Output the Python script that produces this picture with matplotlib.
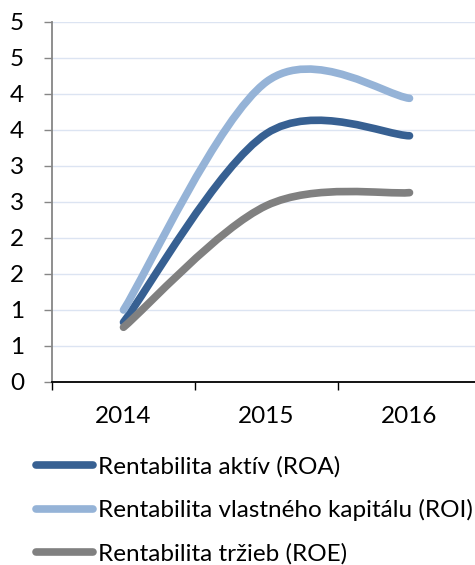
import matplotlib
matplotlib.use('Agg')
import matplotlib.pyplot as plt
from matplotlib.path import Path
from matplotlib.patches import PathPatch
from matplotlib.lines import Line2D
import numpy as np

years = ['2014', '2015', '2016']
roa = [0.83, 3.45, 3.42]
roi = [1.00, 4.17, 3.94]
roe = [0.76, 2.45, 2.63]
series_names = ['Rentabilita aktív (ROA)',
                'Rentabilita vlastného kapitálu (ROI)',
                'Rentabilita tržieb (ROE)']
y_ticks = [0, 0.5, 1, 1.5, 2, 2.5, 3, 3.5, 4, 4.5, 5]
y_tick_labels = ['0', '1', '1', '2', '2', '3', '3', '4', '4', '5', '5']

colors = ['#376092', '#95B3D7', '#808080']

plt.rcParams['font.family'] = ['Lato', 'DejaVu Sans']


def smooth_path(xs, ys):
    """Excel-like smoothed line: Catmull-Rom turned into cubic Bezier."""
    pts = np.column_stack([xs, ys]).astype(float)
    n = len(pts)
    verts = [pts[0]]
    codes = [Path.MOVETO]
    for i in range(n - 1):
        p0 = pts[i - 1] if i > 0 else pts[i]
        p1 = pts[i]
        p2 = pts[i + 1]
        p3 = pts[i + 2] if i + 2 < n else pts[i + 1]
        c1 = p1 + (p2 - p0) / 6
        c2 = p2 - (p3 - p1) / 6
        verts += [c1, c2, p2]
        codes += [Path.CURVE4] * 3
    return Path(verts, codes)


fig = plt.figure(figsize=(4.75, 5.65), dpi=100)
ax = fig.add_axes([52 / 475, 1 - 382 / 565, 429 / 475, 360 / 565])

x = np.arange(len(years))
for vals, col in zip([roa, roi, roe], colors):
    patch = PathPatch(smooth_path(x, vals), facecolor='none', edgecolor=col,
                      lw=5.5, capstyle='round', joinstyle='round', zorder=3)
    ax.add_patch(patch)

ax.set_xlim(-0.5, 2.5)
ax.set_ylim(0, 5)
ax.set_yticks(y_ticks)
ax.set_yticklabels(y_tick_labels)
ax.set_xticks(x)
ax.set_xticklabels(years)
ax.set_xticks([-0.5, 0.5, 1.5, 2.5], minor=True)
ax.tick_params(axis='x', which='major', length=0, pad=17, labelsize=17.5)
ax.tick_params(axis='x', which='minor', length=6, width=1, color='black')
ax.tick_params(axis='y', length=6, width=1, color='#868686', pad=14,
               labelsize=17.5)
ax.grid(axis='y', color='#DCE4F2', lw=1)
ax.set_axisbelow(True)
for s in ['top', 'right']:
    ax.spines[s].set_visible(False)
ax.spines['left'].set_color('#868686')
ax.spines['left'].set_linewidth(1.3)
ax.spines['bottom'].set_color('black')
ax.spines['bottom'].set_linewidth(1.3)

handles = [Line2D([], [], color=c, lw=5.5, solid_capstyle='round')
           for c in colors]
fig.legend(handles, series_names, loc='upper left',
           bbox_to_anchor=(36 / 475, 1 - 456 / 565), frameon=False,
           fontsize=17.5, handlelength=2.35, handletextpad=0.2,
           labelspacing=0.9, borderaxespad=0, borderpad=0)

fig.savefig('out.png', dpi=100)
